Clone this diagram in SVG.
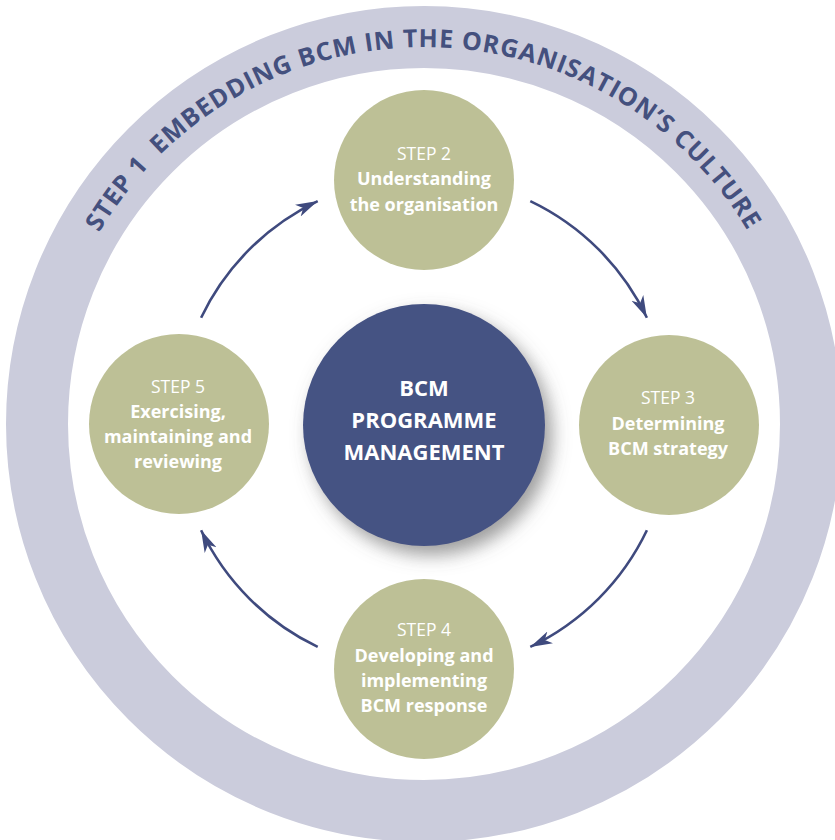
<svg xmlns="http://www.w3.org/2000/svg" width="835" height="840" viewBox="0 0 835 840">
  <style>
    .ring { fill: none; stroke: #cbccdc; stroke-width: 62; }
    .ringtext { font-family: "Open Sans", "Liberation Sans", sans-serif; font-weight: bold; font-size: 25px; fill: #44507e; }
    .step { fill: #bdc096; }
    .st { font-family: "Open Sans", "Liberation Sans", sans-serif; font-size: 17.5px; fill: #ffffff; text-anchor: middle; }
    .stb { font-family: "Open Sans", "Liberation Sans", sans-serif; font-size: 18px; font-weight: bold; fill: #ffffff; text-anchor: middle; }
    .core { fill: #455283; }
    .coretext { font-family: "Open Sans", "Liberation Sans", sans-serif; font-size: 22px; font-weight: bold; fill: #ffffff; text-anchor: middle; }
    .arrow { fill: none; stroke: #3f4a7e; stroke-width: 2.6; }
  </style>
  <defs>
    <marker id="ah" viewBox="-22 -7 24 14" markerUnits="userSpaceOnUse" markerWidth="24" markerHeight="14" refX="0" refY="0" orient="auto">
      <path d="M0,0 L-22,-6.5 L-16,0 L-22,6.5 Z" fill="#3f4a7e"/>
    </marker>
    <filter id="shadow" x="-30%" y="-30%" width="170%" height="170%">
      <feDropShadow dx="7" dy="9" stdDeviation="9" flood-color="#5a5a5a" flood-opacity="0.6"/>
    </filter>
    <path id="textarc" d="M99.2,232.7 A377,377 0 0,1 748.8,232.7"/>
  </defs>

  <g id="step1">
    <circle class="ring" cx="424" cy="424" r="387"/>
    <text class="ringtext"><textPath href="#textarc" startOffset="0" textLength="780" lengthAdjust="spacing">STEP 1&#160; EMBEDDING BCM IN THE ORGANISATION’S CULTURE</textPath></text>
  </g>

  <g id="connectors">
    <path class="arrow" d="M530.3,201.1 A247,247 0 0,1 646.9,317.7" marker-end="url(#ah)"/>
    <path class="arrow" d="M646.9,530.3 A247,247 0 0,1 530.3,646.9" marker-end="url(#ah)"/>
    <path class="arrow" d="M317.7,646.9 A247,247 0 0,1 201.1,530.3" marker-end="url(#ah)"/>
    <path class="arrow" d="M201.1,317.7 A247,247 0 0,1 317.7,201.1" marker-end="url(#ah)"/>
  </g>

  <g id="core">
    <circle class="core" cx="424" cy="425" r="121" filter="url(#shadow)"/>
    <text class="coretext" x="424" y="396">BCM</text>
    <text class="coretext" x="424" y="428">PROGRAMME</text>
    <text class="coretext" x="424" y="460">MANAGEMENT</text>
  </g>

  <g id="step2">
    <circle class="step" cx="424" cy="180" r="90"/>
    <text class="st" x="424" y="160">STEP 2</text>
    <text class="stb" x="424" y="185">Understanding</text>
    <text class="stb" x="424" y="211">the organisation</text>
  </g>

  <g id="step3">
    <circle class="step" cx="669" cy="425" r="90"/>
    <text class="st" x="668" y="404">STEP 3</text>
    <text class="stb" x="668" y="430">Determining</text>
    <text class="stb" x="668" y="455">BCM strategy</text>
  </g>

  <g id="step4">
    <circle class="step" cx="424" cy="669" r="90"/>
    <text class="st" x="424" y="636">STEP 4</text>
    <text class="stb" x="424" y="662">Developing and</text>
    <text class="stb" x="424" y="687">implementing</text>
    <text class="stb" x="424" y="712">BCM response</text>
  </g>

  <g id="step5">
    <circle class="step" cx="179" cy="424" r="90"/>
    <text class="st" x="178" y="393">STEP 5</text>
    <text class="stb" x="178" y="418">Exercising,</text>
    <text class="stb" x="178" y="443">maintaining and</text>
    <text class="stb" x="178" y="468">reviewing</text>
  </g>
</svg>
